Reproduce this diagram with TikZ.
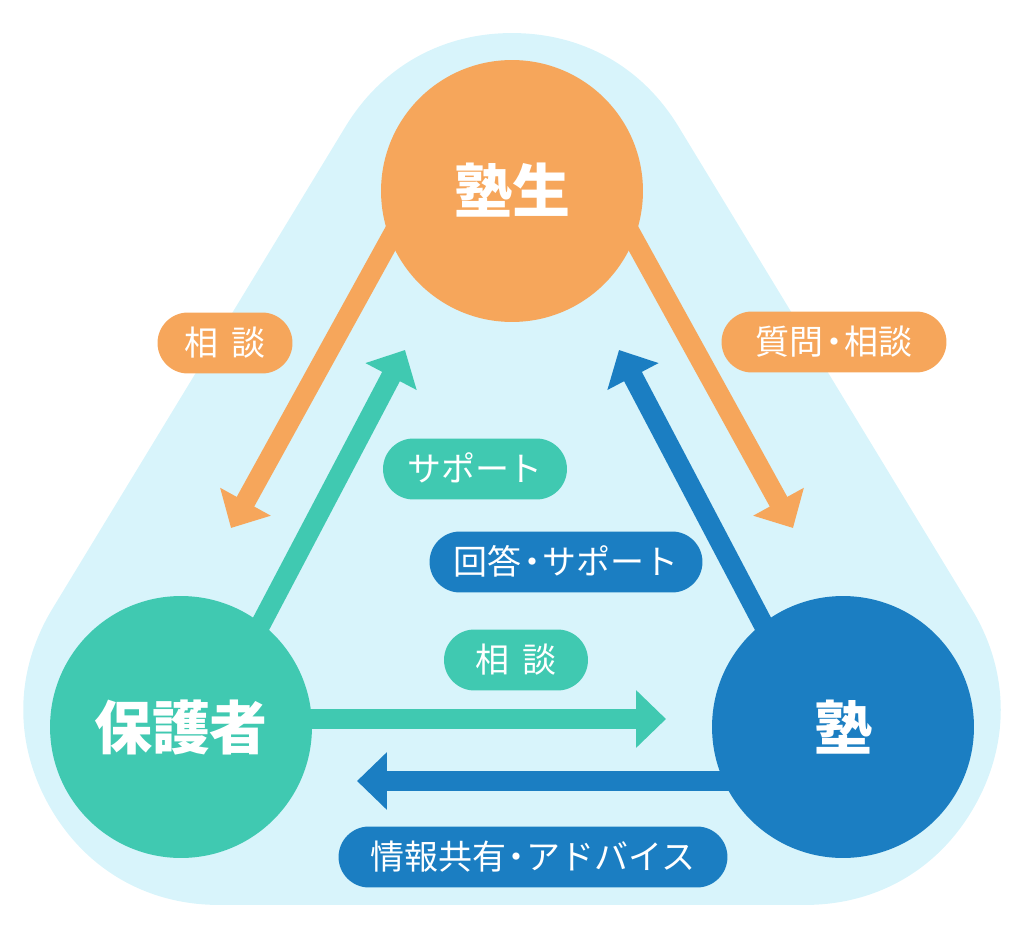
\documentclass[tikz,border=0pt]{standalone}
\usepackage{fontspec}
\newfontfamily\jpfont{Noto Sans CJK JP}
\usetikzlibrary{arrows.meta}
\definecolor{orangeC}{HTML}{F6A65B}
\definecolor{greenC}{HTML}{40C9B1}
\definecolor{blueC}{HTML}{1B7EC2}
\definecolor{skyC}{HTML}{D8F4FB}
\newcommand{\mdot}{\kern-0.2em・\kern-0.2em}

\begin{document}
\begin{tikzpicture}[
    circ/.style={circle, minimum size=262pt, inner sep=0pt, text=white,
      text height=48pt, text depth=4pt,
      font=\jpfont\bfseries\fontsize{58}{60}\selectfont},
    pill/.style={rounded corners=30.5pt, minimum height=61pt, inner xsep=22pt,
      inner ysep=0pt, text=white, text height=28pt, text depth=2.4pt,
      font=\jpfont\fontsize{34}{40}\selectfont},
    flow/.style={line width=20pt, -{Triangle[length=30pt,width=56pt]}},
  ]
    \def\x{0.03515}
    \def\y{-0.03515}
    \useasboundingbox (0,0) rectangle (1024*\x, 939*\y);
    % backdrop
    \filldraw[skyC, line width=390pt, line join=round]
      (512*\x, 228*\y) -- (219*\x, 710*\y) -- (805*\x, 710*\y) -- cycle;
    % arrow ends
    \coordinate (s0) at (409*\x, 205*\y);
    \coordinate (e0) at (231*\x, 528*\y);
    \coordinate (s1) at (615*\x, 205*\y);
    \coordinate (e1) at (793*\x, 528*\y);
    \coordinate (s2) at (242*\x, 660*\y);
    \coordinate (e2) at (405*\x, 350*\y);
    \coordinate (s3) at (782*\x, 660*\y);
    \coordinate (e3) at (619*\x, 350*\y);
    \coordinate (s4) at (250*\x, 719*\y);
    \coordinate (e4) at (666*\x, 719*\y);
    \coordinate (s5) at (780*\x, 781*\y);
    \coordinate (e5) at (357*\x, 781*\y);
    \path (s0) edge [flow, color=orangeC] (e0);
    \path (s1) edge [flow, color=orangeC] (e1);
    \path (s2) edge [flow, color=greenC] (e2);
    \path (s3) edge [flow, color=blueC] (e3);
    \path (s4) edge [flow, color=greenC] (e4);
    \path (s5) edge [flow, color=blueC] (e5);
    % circles
    \node[circ, fill=orangeC] (A0_1) at (512*\x, 191*\y) {塾生};
    \node[circ, fill=greenC] (A1_0) at (181*\x, 727*\y) {保護者};
    \node[circ, fill=blueC] (A1_2) at (843*\x, 727*\y) {塾};
    % labels
    \node[pill, fill=orangeC, minimum width=135pt] (B0_0) at (225*\x, 343*\y) {相\kern0.4em 談};
    \node[pill, fill=orangeC, minimum width=225pt] (B0_2) at (834*\x, 342*\y) {質問\mdot 相談};
    \node[pill, fill=greenC, minimum width=184pt] (B1_1) at (475*\x, 469*\y) {サポート};
    \node[pill, fill=blueC, minimum width=273pt] (B2_1) at (566*\x, 562*\y) {回答\mdot サポート};
    \node[pill, fill=greenC, minimum width=144pt] (B3_1) at (516*\x, 660*\y) {相\kern0.4em 談};
    \node[pill, fill=blueC, minimum width=389pt] (B4_1) at (533*\x, 857*\y) {情報共有\mdot アドバイス};
  \end{tikzpicture}
\end{document}
